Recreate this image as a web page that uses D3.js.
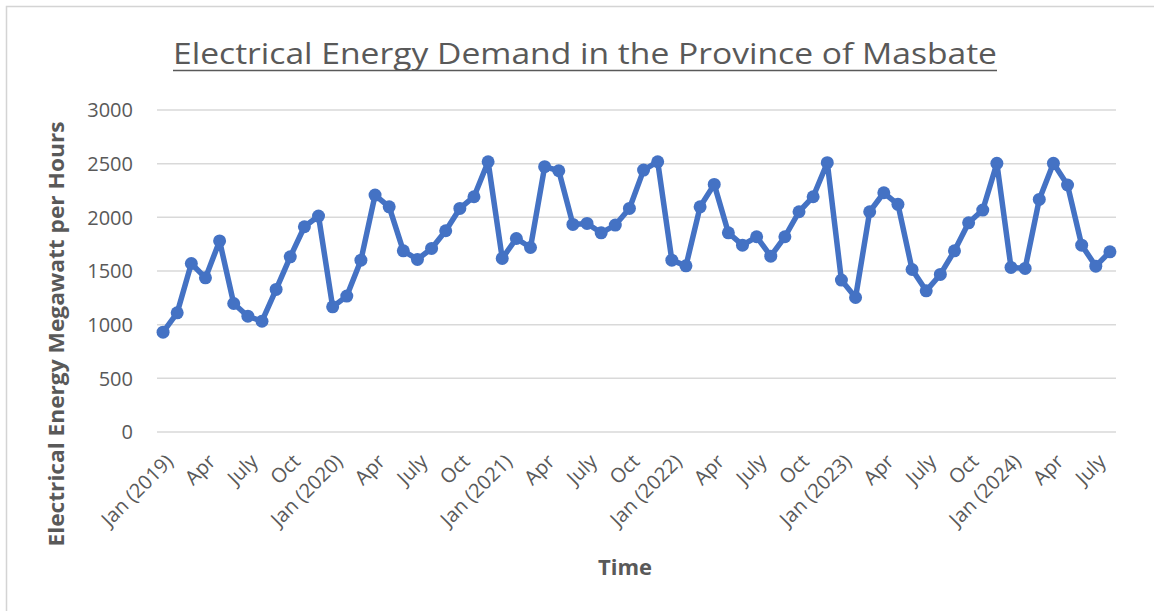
<!DOCTYPE html>
<html>
<head>
<meta charset="utf-8">
<script src="https://cdn.jsdelivr.net/npm/d3@7"></script>
<style>
  html, body { margin: 0; padding: 0; background: #ffffff; }
  svg { display: block; }
  text { font-family: "Open Sans", "Noto Sans", sans-serif; fill: #595959; }
</style>
</head>
<body>
<svg id="chart" width="1154" height="611"></svg>
<script>
// Monthly categories, Jan 2019 – Aug 2024
const years = [2019, 2020, 2021, 2022, 2023, 2024];
const monthNames = ["Jan","Feb","Mar","Apr","May","Jun","Jul","Aug","Sep","Oct","Nov","Dec"];
const categories = [];
years.forEach(y => monthNames.forEach((m, i) => {
  if (y < 2024 || i < 8) categories.push(m + " " + y);
}));

// Electrical energy demand (MWh) per month
const demand = [
  930, 1110, 1570, 1436, 1780, 1197, 1079, 1032, 1328, 1632, 1912, 2012,
  1166, 1266, 1601, 2207, 2098, 1688, 1608, 1710, 1875, 2083, 2192, 2518,
  1617, 1803, 1719, 2472, 2434, 1934, 1943, 1856, 1928, 2083, 2440, 2518,
  1601, 1548, 2098, 2307, 1856, 1741, 1819, 1638, 1819, 2052, 2192, 2509,
  1415, 1253, 2052, 2229, 2121, 1514, 1315, 1468, 1688, 1949, 2068, 2503,
  1533, 1524, 2167, 2503, 2301, 1741, 1545, 1679
];

// Category-axis labels, shown every third month
const tickLabels = [
  "Jan (2019)", "Apr", "July", "Oct",
  "Jan (2020)", "Apr", "July", "Oct",
  "Jan (2021)", "Apr", "July", "Oct",
  "Jan (2022)", "Apr", "July", "Oct",
  "Jan (2023)", "Apr", "July", "Oct",
  "Jan (2024)", "Apr", "July"
];
const tickStep = 3;

const yTicks = [0, 500, 1000, 1500, 2000, 2500, 3000];

const svg = d3.select("#chart");

// chart area frame
svg.append("rect")
  .attr("x", 6.5).attr("y", 6.5)
  .attr("width", 1160).attr("height", 620)
  .attr("fill", "#ffffff")
  .attr("stroke", "#d4d4d4").attr("stroke-width", 1.5);

const x = d3.scalePoint()
  .domain(categories)
  .range([156, 1117])
  .padding(0.5);

const y = d3.scaleLinear()
  .domain([0, 3000])
  .range([432, 110]);

// horizontal gridlines
svg.append("g")
  .selectAll("line")
  .data(yTicks)
  .join("line")
  .attr("x1", 157).attr("x2", 1116)
  .attr("y1", d => y(d)).attr("y2", d => y(d))
  .attr("stroke", "#d9d9d9").attr("stroke-width", 1.5);

// value axis labels
const yAxis = d3.axisLeft(y).tickValues(yTicks).tickFormat(d3.format("d"))
  .tickSize(0).tickPadding(0);
const gy = svg.append("g").attr("transform", "translate(133,0)").call(yAxis);
gy.select(".domain").remove();
gy.selectAll("text")
  .attr("font-size", 20)
  .attr("font-family", "'Open Sans', sans-serif")
  .attr("fill", "#595959")
  .attr("dy", "0.34em");

// category axis labels, rotated
const tickCats = categories.filter((c, i) => i % tickStep === 0);
const xAxis = d3.axisBottom(x)
  .tickValues(tickCats)
  .tickFormat((d, i) => tickLabels[i])
  .tickSize(0).tickPadding(0);
const gx = svg.append("g").attr("transform", "translate(0,432)").call(xAxis);
gx.select(".domain").remove();
gx.selectAll(".tick text")
  .attr("font-size", 20)
  .attr("font-family", "'Open Sans', sans-serif")
  .attr("fill", "#595959")
  .attr("text-anchor", "end")
  .attr("y", 0).attr("dy", 0)
  .attr("transform", "translate(7,27) rotate(-45)")
  .attr("dominant-baseline", "middle");

// demand line
const line = d3.line()
  .x((d, i) => x(categories[i]))
  .y(d => y(d));

svg.append("path")
  .datum(demand)
  .attr("d", line)
  .attr("fill", "none")
  .attr("stroke", "#4472C4")
  .attr("stroke-width", 5.5)
  .attr("stroke-linejoin", "round");

svg.append("g")
  .selectAll("circle")
  .data(demand)
  .join("circle")
  .attr("cx", (d, i) => x(categories[i]))
  .attr("cy", d => y(d))
  .attr("r", 6.5)
  .attr("fill", "#4472C4");

// title with underline
svg.append("text")
  .attr("x", 585).attr("y", 64)
  .attr("text-anchor", "middle")
  .attr("font-size", 30)
  .attr("font-weight", 400)
  .attr("textLength", 824)
  .attr("lengthAdjust", "spacingAndGlyphs")
  .attr("fill", "#595959")
  .text("Electrical Energy Demand in the Province of Masbate");
svg.append("line")
  .attr("x1", 173).attr("x2", 997)
  .attr("y1", 70.5).attr("y2", 70.5)
  .attr("stroke", "#595959").attr("stroke-width", 1.6);

// axis titles
svg.append("text")
  .attr("transform", "translate(64,334) rotate(-90)")
  .attr("text-anchor", "middle")
  .attr("font-size", 21)
  .attr("font-weight", 700)
  .attr("textLength", 425)
  .attr("lengthAdjust", "spacingAndGlyphs")
  .text("Electrical Energy Megawatt per Hours");

svg.append("text")
  .attr("x", 625).attr("y", 575)
  .attr("text-anchor", "middle")
  .attr("font-size", 22)
  .attr("font-weight", 700)
  .text("Time");
</script>
</body>
</html>
